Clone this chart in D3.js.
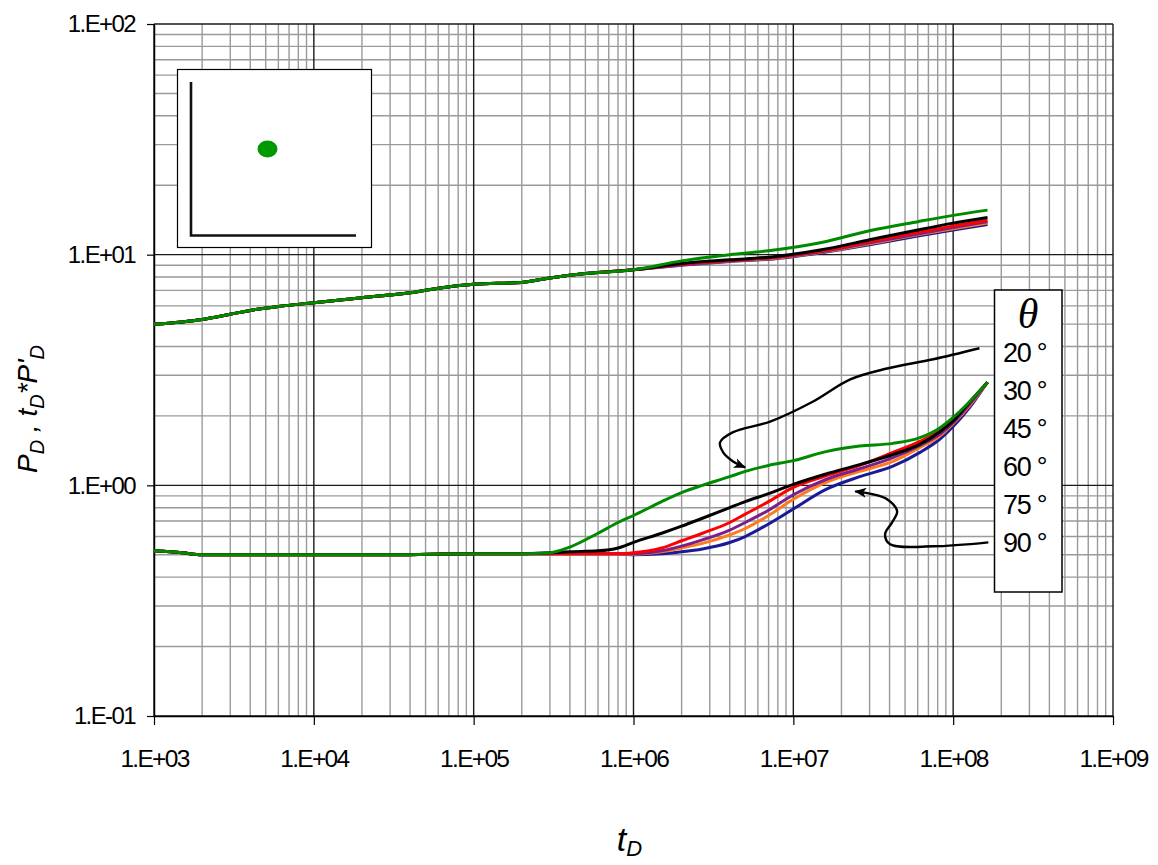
<!DOCTYPE html>
<html>
<head>
<meta charset="utf-8">
<script src="https://cdn.jsdelivr.net/npm/d3@7"></script>
<style>
  html, body { margin: 0; padding: 0; background: #fff; }
  svg { display: block; }
</style>
</head>
<body>
<svg id="chart" width="1158" height="865"></svg>
<script>
// ---------------- DATA ----------------
const angles = ["20", "30", "45", "60", "75", "90"];
const seriesColors = ["#008a00", "#000000", "#ff0000", "#7a1f8c", "#ff7a1a", "#1a1a96"];

const xTickValues = [1e3, 1e4, 1e5, 1e6, 1e7, 1e8, 1e9];
const xTickLabels = ["1.E+03", "1.E+04", "1.E+05", "1.E+06", "1.E+07", "1.E+08", "1.E+09"];
const yTickValues = [0.1, 1, 10, 100];
const yTickLabels = ["1.E-01", "1.E+00", "1.E+01", "1.E+02"];

// pressure (P_D) time grid
const tPressure = [1e3, 2e3, 3e3, 4e3, 6e3, 1e4, 2e4, 4e4, 6e4, 1e5, 2e5, 3e5, 5e5, 1e6,
                   2e6, 4e6, 7e6, 1.5e7, 3e7, 6e7, 1e8, 1.64e8];
const pD20 = [4.99, 5.24, 5.52, 5.73, 5.96, 6.19, 6.51, 6.83, 7.15, 7.44, 7.58, 7.93, 8.28, 8.6,
              9.4, 10.0, 10.4, 11.3, 12.7, 13.9, 14.8, 15.6];
const pD30 = [4.99, 5.24, 5.52, 5.73, 5.96, 6.19, 6.51, 6.83, 7.15, 7.44, 7.58, 7.93, 8.28, 8.6,
              9.15, 9.5, 9.75, 10.5, 11.6, 12.8, 13.7, 14.5];
const pD45 = [4.99, 5.24, 5.52, 5.73, 5.96, 6.19, 6.51, 6.83, 7.15, 7.44, 7.58, 7.93, 8.28, 8.6,
              9.1, 9.45, 9.7, 10.4, 11.4, 12.5, 13.3, 14.1];
const pD60 = [4.99, 5.24, 5.52, 5.73, 5.96, 6.19, 6.51, 6.83, 7.15, 7.44, 7.58, 7.93, 8.28, 8.6,
              9.05, 9.4, 9.65, 10.3, 11.25, 12.3, 13.1, 13.9];
const pD75 = [4.99, 5.24, 5.52, 5.73, 5.96, 6.19, 6.51, 6.83, 7.15, 7.44, 7.58, 7.93, 8.28, 8.6,
              9.05, 9.38, 9.6, 10.25, 11.15, 12.2, 12.95, 13.7];
const pD90 = [4.99, 5.24, 5.52, 5.73, 5.96, 6.19, 6.51, 6.83, 7.15, 7.44, 7.58, 7.93, 8.28, 8.6,
              9.0, 9.35, 9.55, 10.2, 11.05, 12.05, 12.8, 13.5];

// derivative (t_D*P'_D) time grid
const tDeriv = [1e3, 1.5e3, 2e3, 5e3, 1e4, 3e4, 1e5, 2e5, 3e5, 4e5, 6e5, 8e5, 1e6, 1.5e6,
                2e6, 2.7e6, 4e6, 5e6, 7e6, 1e7, 1.6e7, 2.6e7, 4.2e7, 6.2e7, 8.2e7, 1e8, 1.27e8, 1.64e8];
const dD20 = [0.52, 0.51, 0.50, 0.50, 0.50, 0.50, 0.505, 0.505, 0.51, 0.54, 0.62, 0.69, 0.74, 0.85,
              0.93, 1.00, 1.09, 1.15, 1.22, 1.28, 1.40, 1.48, 1.52, 1.61, 1.77, 1.97, 2.31, 2.8];
const dD30 = [0.52, 0.51, 0.50, 0.50, 0.50, 0.50, 0.505, 0.505, 0.51, 0.515, 0.52, 0.535, 0.566, 0.62,
              0.665, 0.72, 0.80, 0.85, 0.92, 1.01, 1.12, 1.23, 1.36, 1.51, 1.70, 1.90, 2.3, 2.8];
const dD45 = [0.52, 0.51, 0.50, 0.50, 0.50, 0.50, 0.505, 0.505, 0.505, 0.505, 0.505, 0.505, 0.51, 0.535,
              0.575, 0.62, 0.69, 0.75, 0.85, 0.98, 1.10, 1.22, 1.39, 1.55, 1.72, 1.92, 2.3, 2.8];
const dD60 = [0.52, 0.51, 0.50, 0.50, 0.50, 0.50, 0.505, 0.505, 0.505, 0.505, 0.505, 0.505, 0.505, 0.52,
              0.545, 0.58, 0.64, 0.69, 0.78, 0.91, 1.06, 1.18, 1.32, 1.49, 1.66, 1.87, 2.25, 2.8];
const dD75 = [0.52, 0.51, 0.50, 0.50, 0.50, 0.50, 0.505, 0.505, 0.505, 0.505, 0.505, 0.505, 0.503, 0.515,
              0.535, 0.56, 0.61, 0.65, 0.74, 0.87, 1.03, 1.15, 1.27, 1.46, 1.63, 1.85, 2.22, 2.8];
const dD90 = [0.52, 0.51, 0.50, 0.50, 0.50, 0.50, 0.505, 0.505, 0.505, 0.505, 0.505, 0.505, 0.50, 0.505,
              0.515, 0.53, 0.565, 0.60, 0.68, 0.79, 0.96, 1.09, 1.21, 1.39, 1.58, 1.80, 2.18, 2.8];

// annotation arrows (data coordinates: [t_D, value])
const arrowUpperT = [1.46e8, 7.5e7, 3.86e7, 2.27e7, 1.33e7, 7.16e6, 4.2e6, 3.48e6, 3.64e6, 4.2e6, 4.99e6];
const arrowUpperV = [3.93, 3.52, 3.21, 2.88, 2.31, 1.89, 1.70, 1.535, 1.39, 1.27, 1.197];
const arrowLowerT = [1.66e8, 7.5e7, 4.03e7, 3.75e7, 4.15e7, 4.46e7, 3.86e7, 3.16e7, 2.44e7];
const arrowLowerV = [0.566, 0.544, 0.555, 0.613, 0.691, 0.772, 0.870, 0.914, 0.942];

// ---------------- LAYOUT ----------------
const plot = { left: 154, right: 1113, top: 24, bottom: 716 };
const svg = d3.select("#chart");
const font = "'Liberation Sans', Arial, sans-serif";

const x = d3.scaleLog().domain([1e3, 1e9]).range([plot.left, plot.right]);
const y = d3.scaleLog().domain([0.1, 100]).range([plot.bottom, plot.top]);

// ---------------- GRID ----------------
const grid = svg.append("g");
const minorX = [], minorY = [];
for (let e = 3; e < 9; e++) for (let k = 2; k <= 9; k++) minorX.push(k * Math.pow(10, e));
for (let e = -1; e < 2; e++) for (let k = 2; k <= 9; k++) minorY.push(k * Math.pow(10, e));

grid.selectAll(".mx").data(minorX).join("line")
  .attr("x1", d => x(d)).attr("x2", d => x(d))
  .attr("y1", plot.top).attr("y2", plot.bottom)
  .attr("stroke", "#9a9a9a").attr("stroke-width", 1.4);
grid.selectAll(".my").data(minorY).join("line")
  .attr("x1", plot.left).attr("x2", plot.right)
  .attr("y1", d => y(d)).attr("y2", d => y(d))
  .attr("stroke", "#9a9a9a").attr("stroke-width", 1.4);
grid.selectAll(".Mx").data(xTickValues).join("line")
  .attr("x1", d => x(d)).attr("x2", d => x(d))
  .attr("y1", plot.top).attr("y2", plot.bottom)
  .attr("stroke", "#1a1a1a").attr("stroke-width", 1.4);
grid.selectAll(".My").data(yTickValues).join("line")
  .attr("x1", plot.left).attr("x2", plot.right)
  .attr("y1", d => y(d)).attr("y2", d => y(d))
  .attr("stroke", "#1a1a1a").attr("stroke-width", 1.4);

// ---------------- AXES ----------------
const xAxis = d3.axisBottom(x).tickValues(xTickValues)
  .tickFormat((d, i) => xTickLabels[i]).tickSizeInner(9).tickSizeOuter(0).tickPadding(25);
const gx = svg.append("g").attr("transform", `translate(0,${plot.bottom})`).call(xAxis);
gx.select(".domain").attr("stroke", "#000").attr("stroke-width", 1.5);
gx.selectAll(".tick line").attr("stroke", "#000").attr("stroke-width", 1.2);
gx.selectAll(".tick text").attr("font-family", font).attr("font-size", 24.5)
  .attr("letter-spacing", "-1.7px").attr("fill", "#000");

const yAxis = d3.axisLeft(y).tickValues(yTickValues)
  .tickFormat((d, i) => yTickLabels[i]).tickSizeInner(7).tickSizeOuter(0).tickPadding(12);
const gy = svg.append("g").attr("transform", `translate(${plot.left},0)`).call(yAxis);
gy.select(".domain").attr("stroke", "#000").attr("stroke-width", 1.5);
gy.selectAll(".tick line").attr("stroke", "#000").attr("stroke-width", 1.2);
gy.selectAll(".tick text").attr("font-family", font).attr("font-size", 24)
  .attr("letter-spacing", "-1.6px").attr("fill", "#000");

// ---------------- CURVES ----------------
const line = d3.line().x(d => x(d[0])).y(d => y(d[1])).curve(d3.curveMonotoneX);
const pressureSets = [pD20, pD30, pD45, pD60, pD75, pD90];
const derivSets = [dD20, dD30, dD45, dD60, dD75, dD90];
const drawOrder = [5, 4, 3, 2, 1, 0];
const curves = svg.append("g");
drawOrder.forEach(i => {
  curves.append("path")
    .datum(tPressure.map((t, j) => [t, pressureSets[i][j]]))
    .attr("d", line).attr("fill", "none")
    .attr("stroke", seriesColors[i]).attr("stroke-width", 3);
});
drawOrder.forEach(i => {
  curves.append("path")
    .datum(tDeriv.map((t, j) => [t, derivSets[i][j]]))
    .attr("d", line).attr("fill", "none")
    .attr("stroke", seriesColors[i]).attr("stroke-width", 3);
});

// ---------------- ARROWS ----------------
svg.append("defs").append("marker")
  .attr("id", "arrowhead").attr("viewBox", "0 0 12 10")
  .attr("refX", 11).attr("refY", 5)
  .attr("markerWidth", 13).attr("markerHeight", 10)
  .attr("markerUnits", "userSpaceOnUse").attr("orient", "auto")
  .append("path").attr("d", "M0,0 L12,5 L0,10 L3,5 Z").attr("fill", "#000");

const smooth = d3.line().x(d => x(d[0])).y(d => y(d[1])).curve(d3.curveCatmullRom.alpha(0.5));
svg.append("path")
  .datum(arrowUpperT.map((t, j) => [t, arrowUpperV[j]]))
  .attr("d", smooth).attr("fill", "none").attr("stroke", "#000")
  .attr("stroke-width", 2.4).attr("marker-end", "url(#arrowhead)");
svg.append("path")
  .datum(arrowLowerT.map((t, j) => [t, arrowLowerV[j]]))
  .attr("d", smooth).attr("fill", "none").attr("stroke", "#000")
  .attr("stroke-width", 2.4).attr("marker-end", "url(#arrowhead)");

// ---------------- INSET ----------------
const inset = svg.append("g");
inset.append("rect").attr("x", 177.5).attr("y", 69.5).attr("width", 194).attr("height", 178)
  .attr("fill", "#fff").attr("stroke", "#000").attr("stroke-width", 1.2);
inset.append("path").attr("d", "M191,82 L191,235.5 L356,235.5")
  .attr("fill", "none").attr("stroke", "#111").attr("stroke-width", 2.6);
inset.append("ellipse").attr("cx", 267.5).attr("cy", 149).attr("rx", 10).attr("ry", 8.5)
  .attr("fill", "#009900");

// ---------------- LEGEND ----------------
const legend = svg.append("g");
legend.append("rect").attr("x", 994.5).attr("y", 290).attr("width", 67.5).attr("height", 302)
  .attr("fill", "#fff").attr("stroke", "#000").attr("stroke-width", 1.5);
legend.append("text").attr("x", 1028).attr("y", 328).attr("text-anchor", "middle")
  .attr("font-family", "'Liberation Serif', 'Times New Roman', serif")
  .attr("font-style", "italic").attr("font-size", 42).text("\u03b8");
legend.selectAll(".lab").data(angles).join("text")
  .attr("x", 1003).attr("y", (d, i) => 362 + i * 38)
  .attr("font-family", font).attr("font-size", 27).attr("letter-spacing", "-1.3px")
  .text(d => d + " \u00b0");

// ---------------- AXIS TITLES ----------------
const xt = svg.append("text").attr("x", (plot.left + plot.right) / 2 - 4).attr("y", 851)
  .attr("text-anchor", "middle").attr("font-family", font).attr("font-style", "italic")
  .attr("font-size", 34);
xt.append("tspan").text("t");
xt.append("tspan").attr("font-size", 22).attr("dy", 5).text("D");

const yt = svg.append("text")
  .attr("transform", "translate(37,409) rotate(-90)")
  .attr("text-anchor", "middle").attr("font-family", font).attr("font-style", "italic")
  .attr("font-size", 28);
yt.append("tspan").text("P");
yt.append("tspan").attr("font-size", 20).attr("dy", 7).text("D");
yt.append("tspan").attr("dy", -7).text(" , t");
yt.append("tspan").attr("font-size", 20).attr("dy", 7).text("D");
yt.append("tspan").attr("dy", -7).text("*P'");
yt.append("tspan").attr("font-size", 20).attr("dy", 7).text("D");
</script>
</body>
</html>
